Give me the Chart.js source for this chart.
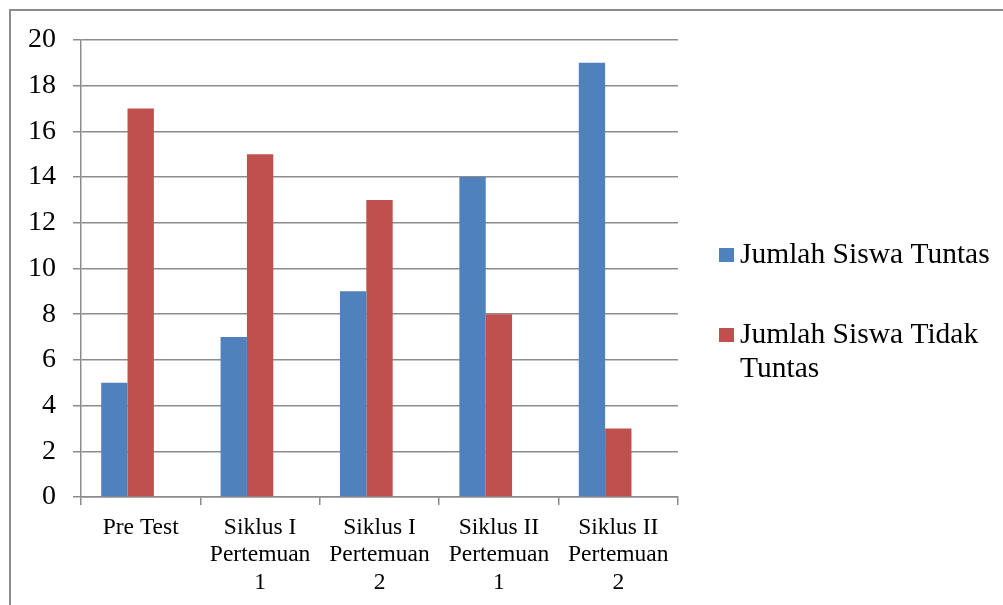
<!DOCTYPE html>
<html>
<head>
<meta charset="utf-8">
<title>Jumlah Siswa Tuntas dan Tidak Tuntas</title>
<script src="https://cdn.jsdelivr.net/npm/chart.js@4.4.1/dist/chart.umd.min.js"></script>
<style>
  html, body { margin: 0; padding: 0; background: #ffffff; }
  #wrap { width: 1003px; height: 605px; }
</style>
</head>
<body>
<div id="wrap"><canvas id="chart" width="1003" height="605"></canvas></div>
<script>
// Categories (multi-line tick labels)
const categories = [
  ["Pre Test"],
  ["Siklus I", "Pertemuan", "1"],
  ["Siklus I", "Pertemuan", "2"],
  ["Siklus II", "Pertemuan", "1"],
  ["Siklus II", "Pertemuan", "2"]
];

// Series values
const tuntas = [5, 7, 9, 14, 19];
const tidakTuntas = [17, 15, 13, 8, 3];
// Empty third series slot kept in the group
const kosong = [null, null, null, null, null];

// Series names
const seriesNames = ["Jumlah Siswa Tuntas", "Jumlah Siswa Tidak Tuntas"];

// Y axis ticks
const yMin = 0;
const yMax = 20;
const yStep = 2;

const GRID = '#8c8c8c';
const SERIF = '"Liberation Serif", "Times New Roman", serif';

// Frame lines along the top and left edges
const framePlugin = {
  id: 'frame',
  beforeDraw(chart) {
    const ctx = chart.ctx;
    ctx.save();
    ctx.fillStyle = '#ffffff';
    ctx.fillRect(0, 0, chart.width, chart.height);
    ctx.strokeStyle = GRID;
    ctx.lineWidth = 2;
    ctx.beginPath();
    ctx.moveTo(10, chart.height);
    ctx.lineTo(10, 10);
    ctx.lineTo(chart.width, 10);
    ctx.stroke();
    ctx.restore();
  }
};

// Legend on the right, with wrapping item text
const sideLegend = {
  id: 'sideLegend',
  afterDraw(chart) {
    const ctx = chart.ctx;
    const x0 = 719, textX = 740, maxW = 255;
    const lineH = 34;
    const baselines = [263, 343];
    ctx.save();
    ctx.font = '29.5px ' + SERIF;
    ctx.textBaseline = 'alphabetic';
    ctx.textAlign = 'left';
    seriesNames.forEach((name, i) => {
      const ds = chart.data.datasets[i];
      const by = baselines[i];
      ctx.fillStyle = ds.backgroundColor;
      ctx.fillRect(x0, by - 15, 15, 14);
      // wrap words
      const words = name.split(' ');
      const lines = [];
      let cur = '';
      words.forEach(w => {
        const t = cur ? cur + ' ' + w : w;
        if (ctx.measureText(t).width > maxW && cur) {
          lines.push(cur);
          cur = w;
        } else {
          cur = t;
        }
      });
      if (cur) lines.push(cur);
      ctx.fillStyle = '#000000';
      lines.forEach((ln, k) => ctx.fillText(ln, textX, by + k * lineH));
    });
    ctx.restore();
  }
};

new Chart(document.getElementById('chart'), {
  type: 'bar',
  data: {
    labels: categories,
    datasets: [
      { label: seriesNames[0], data: tuntas, backgroundColor: '#4f81bd' },
      { label: seriesNames[1], data: tidakTuntas, backgroundColor: '#c0504d' },
      { label: '', data: kosong, backgroundColor: 'rgba(0,0,0,0)' }
    ]
  },
  options: {
    responsive: false,
    animation: false,
    devicePixelRatio: 1,
    layout: { padding: { left: 10, right: 325, top: 40, bottom: 0 } },
    datasets: {
      bar: { categoryPercentage: 0.662, barPercentage: 1.0, borderWidth: 0 }
    },
    plugins: {
      legend: { display: false },
      tooltip: { enabled: false },
      title: { display: false }
    },
    scales: {
      x: {
        offset: true,
        grid: {
          display: true,
          offset: true,
          drawOnChartArea: false,
          drawTicks: true,
          tickLength: 8,
          color: GRID,
          lineWidth: 1.5
        },
        border: { display: true, color: GRID, width: 1.5 },
        ticks: {
          color: '#000000',
          font: { family: SERIF, size: 23.5, lineHeight: 1.17 },
          padding: 9,
          maxRotation: 0,
          autoSkip: false
        },
        afterFit(scale) { scale.height = 108; }
      },
      y: {
        min: yMin,
        max: yMax,
        grid: {
          color: GRID,
          lineWidth: 1.5,
          drawTicks: true,
          tickLength: 8
        },
        border: { display: true, color: GRID, width: 1.5 },
        ticks: {
          stepSize: yStep,
          color: '#000000',
          font: { family: SERIF, size: 28 },
          padding: 17
        },
        afterFit(scale) { scale.width = 71; }
      }
    }
  },
  plugins: [framePlugin, sideLegend]
});
</script>
</body>
</html>
